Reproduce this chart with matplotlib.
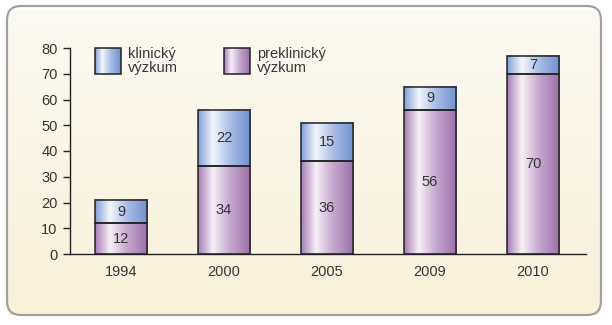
import numpy as np
import matplotlib.pyplot as plt
from matplotlib.colors import LinearSegmentedColormap
from matplotlib.patches import FancyBboxPatch, Rectangle

years = ["1994", "2000", "2005", "2009", "2010"]
preklinicky = [12, 34, 36, 56, 70]
klinicky = [9, 22, 15, 9, 7]
yticks = [0, 10, 20, 30, 40, 50, 60, 70, 80]

plt.rcParams['font.family'] = ['Liberation Sans', 'DejaVu Sans']
txt = '#353535'

blue = LinearSegmentedColormap.from_list(
    'blue', [(0, '#7e9fd6'), (0.28, '#f4f7fc'), (0.6, '#a9bfe6'), (1, '#7090cd')])
purple = LinearSegmentedColormap.from_list(
    'purple', [(0, '#a47cb4'), (0.28, '#f7f0f6'), (0.6, '#c6a9cf'), (1, '#9b6fa8')])
grad = np.linspace(0, 1, 256).reshape(1, -1)

fig = plt.figure(figsize=(6.12, 3.25), dpi=100)

# rounded cream panel behind everything
bg = fig.add_axes([0, 0, 1, 1], zorder=-10)
bg.set_xlim(0, 612)
bg.set_ylim(325, 0)
bg.axis('off')
panel = FancyBboxPatch((7, 6), 594, 309, boxstyle='round,pad=0,rounding_size=14',
                       facecolor='none', edgecolor='#a0a0a0', lw=1.6)
vgrad = np.linspace(0, 1, 256).reshape(-1, 1)
cream = LinearSegmentedColormap.from_list('cream', ['#fcfaf2', '#f8f0d9'])
im = bg.imshow(vgrad, cmap=cream, extent=[7, 601, 315, 6], aspect='auto')
im.set_clip_path(panel)
bg.add_patch(panel)

ax = fig.add_axes([70 / 612, 71 / 325, 516 / 612, 206 / 325])
ax.patch.set_alpha(0)
x = np.arange(len(years))
w = 0.505

b1 = ax.bar(x, preklinicky, w, facecolor='none', edgecolor='#222222', lw=1.1, zorder=3)
b2 = ax.bar(x, klinicky, w, bottom=preklinicky, facecolor='none',
            edgecolor='#222222', lw=1.1, zorder=3)

for bars, cmap, vals in [(b1, purple, preklinicky), (b2, blue, klinicky)]:
    for r, v in zip(bars, vals):
        x0, y0 = r.get_x(), r.get_y()
        ax.imshow(grad, cmap=cmap, extent=[x0, x0 + r.get_width(), y0, y0 + r.get_height()],
                  aspect='auto', zorder=2)
        ax.text(x0 + r.get_width() / 2, y0 + r.get_height() / 2, str(v),
                ha='center', va='center', fontsize=10.5, color=txt, zorder=4)

ax.set_xlim(-0.495, 4.515)
ax.set_ylim(0, 80)
ax.set_xticks(x, years)
ax.set_yticks(yticks)
ax.tick_params(axis='x', length=0, pad=8, labelsize=10.5, labelcolor=txt)
ax.tick_params(axis='y', length=5, width=1, pad=4, labelsize=10.5, labelcolor=txt, color='#222222')
for s in ['top', 'right']:
    ax.spines[s].set_visible(False)
for s in ['left', 'bottom']:
    ax.spines[s].set_color('#222222')
    ax.spines[s].set_linewidth(1)

# legend built from swatches in figure pixels
for px, cmap, label in [(95, blue, 'klinický\nvýzkum'), (224, purple, 'preklinický\nvýzkum')]:
    bg.imshow(grad, cmap=cmap, extent=[px, px + 26, 74, 48], aspect='auto', zorder=2)
    bg.add_patch(Rectangle((px, 48), 26, 26, facecolor='none', edgecolor='#222222', lw=1.1, zorder=3))
    bg.text(px + 33, 61, label, ha='left', va='center', fontsize=10.5, color=txt,
            linespacing=0.92)

fig.savefig('out.png', dpi=100)
